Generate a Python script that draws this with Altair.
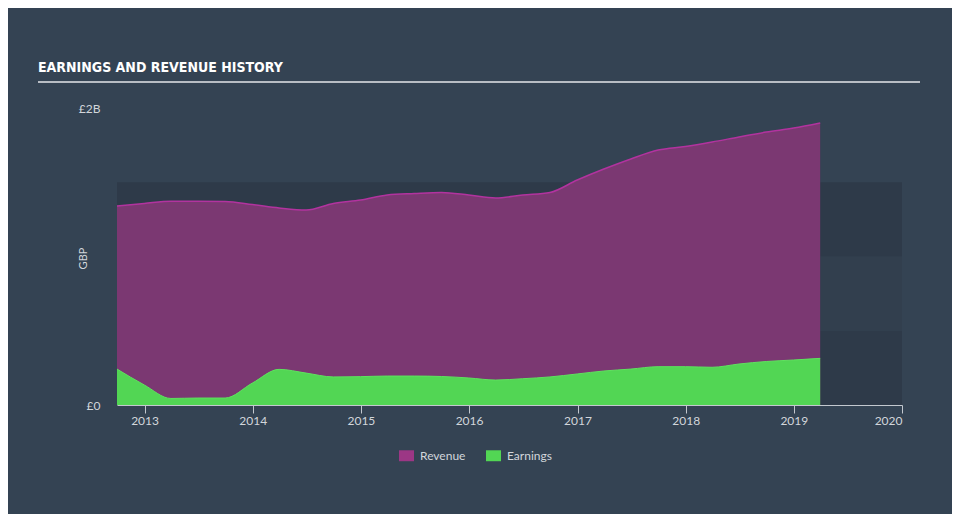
import altair as alt
import pandas as pd

# ---------------- data ----------------
dates = [
    "2012-09-30", "2012-12-31", "2013-03-31", "2013-06-30", "2013-09-30",
    "2013-12-31", "2014-03-31", "2014-06-30", "2014-09-30", "2014-12-31",
    "2015-03-31", "2015-06-30", "2015-09-30", "2015-12-31", "2016-03-31",
    "2016-06-30", "2016-09-30", "2016-12-31", "2017-03-31", "2017-06-30",
    "2017-09-30", "2017-12-31", "2018-03-31", "2018-06-30", "2018-09-30",
    "2018-12-31", "2019-03-31",
]
revenue_bn = [
    1.340, 1.357, 1.372, 1.372, 1.370, 1.350, 1.327, 1.313, 1.357, 1.380,
    1.414, 1.424, 1.431, 1.414, 1.394, 1.414, 1.431, 1.515, 1.589, 1.657,
    1.717, 1.741, 1.771, 1.805, 1.838, 1.865, 1.899,
]
earnings_bn = [
    0.242, 0.135, 0.044, 0.047, 0.047, 0.148, 0.240, 0.215, 0.189, 0.191,
    0.195, 0.195, 0.192, 0.182, 0.168, 0.177, 0.189, 0.209, 0.229, 0.242,
    0.258, 0.258, 0.254, 0.276, 0.293, 0.303, 0.314,
]
band_low_bn = [0.0, 0.5, 1.0]
band_high_bn = [0.5, 1.0, 1.5]
band_shade = ["dark", "mid", "dark"]
year_ticks = [2013, 2014, 2015, 2016, 2017, 2018, 2019, 2020]
series_names = ["Revenue", "Earnings"]
x_start = "2012-09-30"
x_end = "2020-01-01"

# ---------------- styling ----------------
BG = "#344353"
BAND_DARK = "#2e3a49"
BAND_MID = "#323f4e"
REV_COLOR = "#9c3785"
REV_LINE = "#b2339f"
EARN_COLOR = "#52d654"
EARN_LINE = "#5ee35e"
TEXT = "#d2d6db"
AXIS = "#c3c8cf"
FONT = "Lato"

W, H = 785, 297

df = pd.DataFrame({
    "date": pd.to_datetime(dates),
    "revenue": [v * 1e9 for v in revenue_bn],
    "earnings": [v * 1e9 for v in earnings_bn],
})
bands = pd.DataFrame({
    "start": pd.to_datetime([x_start] * 3),
    "end": pd.to_datetime([x_end] * 3),
    "lo": [v * 1e9 for v in band_low_bn],
    "hi": [v * 1e9 for v in band_high_bn],
    "shade": band_shade,
})

xscale = alt.Scale(domain=[pd.Timestamp(x_start).isoformat(), pd.Timestamp(x_end).isoformat()])
yscale = alt.Scale(domain=[0, 2e9], nice=False)

x_axis = alt.Axis(
    title=None, format="%Y",
    values=[alt.DateTime(year=y, month=1, date=1) for y in year_ticks],
    domainColor=AXIS, tickColor=AXIS, tickSize=8, labelPadding=2,
    labelColor=TEXT, labelFontSize=12, labelFont=FONT, grid=False,
)
y_axis = alt.Axis(
    title="GBP", values=[0, 2e9],
    labelExpr="datum.value == 0 ? '£0' : '£2B'",
    domain=False, ticks=False, grid=False, labelPadding=17,
    labelColor=TEXT, labelFontSize=12, labelFont=FONT,
    titleColor=TEXT, titleFont=FONT, titleFontSize=11, titleFontWeight="normal",
    titleX=-34, titleY=150, titleAngle=270, titleAlign="center", titleBaseline="middle",
)

band_layer = alt.Chart(bands).mark_rect().encode(
    x=alt.X("start:T", scale=xscale, axis=x_axis),
    x2="end:T",
    y=alt.Y("lo:Q", scale=yscale, axis=y_axis),
    y2="hi:Q",
    fill=alt.Fill("shade:N", scale=alt.Scale(domain=["dark", "mid"], range=[BAND_DARK, BAND_MID]), legend=None),
)

base = alt.Chart(df).encode(x=alt.X("date:T", scale=xscale, axis=x_axis))

rev_under = base.mark_area(interpolate="monotone", color=BAND_DARK).encode(
    y=alt.Y("revenue:Q", scale=yscale, axis=y_axis)
)

color_scale = alt.Scale(domain=series_names, range=[REV_COLOR, EARN_COLOR])
legend = alt.Legend(
    title=None, orient="none", legendX=282, legendY=340, direction="horizontal",
    symbolType="M-1,-0.73L1,-0.73L1,0.73L-1,0.73Z", symbolSize=225,
    symbolStrokeWidth=0, symbolOpacity=1,
    labelColor=TEXT, labelFont=FONT, labelFontSize=12, labelOffset=6,
    columnPadding=20, padding=0,
)

rev_area = base.mark_area(interpolate="monotone", opacity=0.7).transform_calculate(
    series="'Revenue'"
).encode(
    y=alt.Y("revenue:Q", scale=yscale, axis=y_axis),
    color=alt.Color("series:N", scale=color_scale, legend=legend),
)
rev_line = base.mark_line(interpolate="monotone", color=REV_LINE, strokeWidth=1.5).encode(
    y=alt.Y("revenue:Q", scale=yscale, axis=y_axis)
)
earn_area = base.mark_area(interpolate="monotone", opacity=1).transform_calculate(
    series="'Earnings'"
).encode(
    y=alt.Y("earnings:Q", scale=yscale, axis=y_axis),
    color=alt.Color("series:N", scale=color_scale, legend=legend),
)
earn_line = base.mark_line(interpolate="monotone", color=EARN_LINE, strokeWidth=1).encode(
    y=alt.Y("earnings:Q", scale=yscale, axis=y_axis)
)

underline = alt.Chart(pd.DataFrame({"k": [0]})).mark_rule(color="#b8bdc4", strokeWidth=2).encode(
    x=alt.value(-79), x2=alt.value(803), y=alt.value(-26)
)

chart = alt.layer(
    band_layer, rev_under, rev_area, rev_line, earn_area, earn_line, underline
).properties(
    width=W, height=H,
    title=alt.TitleParams(
        text="EARNINGS AND REVENUE HISTORY", anchor="start", frame="group",
        dx=-79, offset=6, font="DejaVu Sans Condensed", fontSize=14,
        fontWeight="bold", color="#ffffff",
    ),
    padding={"left": 109, "top": 100, "right": 50, "bottom": 109},
    autosize=alt.AutoSizeParams(type="none"),
    background=BG,
).configure_view(stroke=None)

chart.save("out.html", embed_options={"renderer": "svg", "actions": False})
